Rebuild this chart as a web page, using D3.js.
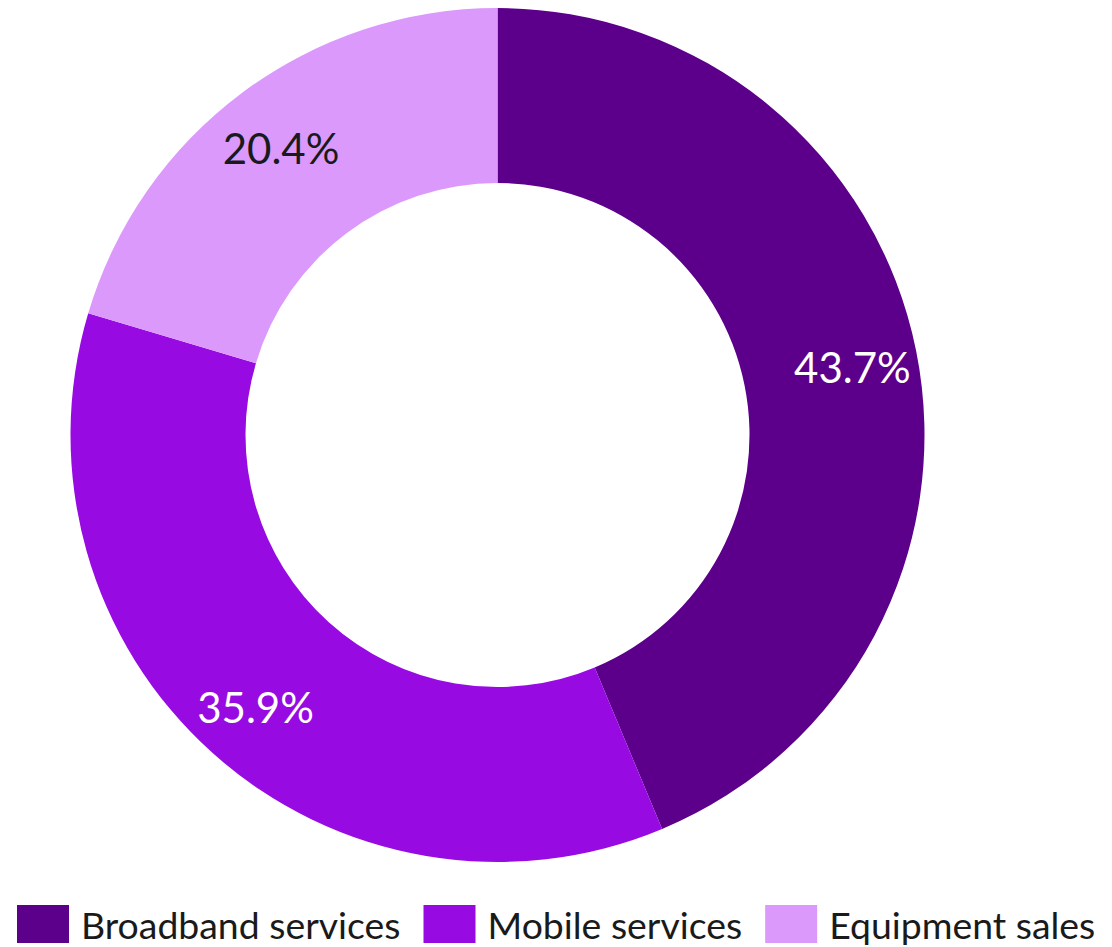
<!DOCTYPE html>
<html><head><meta charset="utf-8">
<script src="https://cdn.jsdelivr.net/npm/d3@7"></script>
<style>body{margin:0;background:#fff}svg{display:block}</style>
</head><body>
<svg id="c" width="1112" height="947"></svg>
<script>
const categories = ["Broadband services", "Mobile services", "Equipment sales"];
const values = [43.7, 35.9, 20.4];
const colors = ["#5c008c", "#970be2", "#dc99fc"];
const labelColors = ["#ffffff", "#ffffff", "#1a1a1a"];

const svg = d3.select("#c");
const cx = 497.5, cy = 435, rOuter = 427, rInner = 252, rLabel = 362;
const FONT = "Lato, 'Noto Sans', sans-serif";

const data = categories.map((c, i) => ({cat: c, value: values[i], i}));
const pie = d3.pie().value(d => d.value).sort(null);
const arcs = pie(data);
const arc = d3.arc().innerRadius(rInner).outerRadius(rOuter);
const labelArc = d3.arc().innerRadius(rLabel).outerRadius(rLabel);

const g = svg.append("g").attr("transform", `translate(${cx},${cy})`);
g.selectAll("path").data(arcs).join("path")
  .attr("d", arc).attr("fill", d => colors[d.data.i]);
g.selectAll("text").data(arcs).join("text")
  .attr("transform", d => { const c = labelArc.centroid(d); return `translate(${c[0]},${c[1] + 4})`; })
  .attr("text-anchor", "middle").attr("dy", "0.35em")
  .attr("font-family", FONT).attr("font-size", 42)
  .attr("fill", d => labelColors[d.data.i])
  .text(d => d.data.value.toFixed(1) + "%");

// legend
const leg = svg.append("g");
const sw = 52, sh = 38, gap1 = 12, gap2 = 23, ly = 905;
let x = 17;
data.forEach(d => {
  leg.append("rect").attr("x", x).attr("y", ly).attr("width", sw).attr("height", sh).attr("fill", colors[d.i]);
  const t = leg.append("text").attr("x", x + sw + gap1).attr("y", ly + sh / 2 + 2).attr("dy", "0.35em")
    .attr("font-family", FONT).attr("font-size", 37.4).attr("fill", "#1a1a1a").text(d.cat);
  x += sw + gap1 + t.node().getComputedTextLength() + gap2;
});
</script>
</body></html>
